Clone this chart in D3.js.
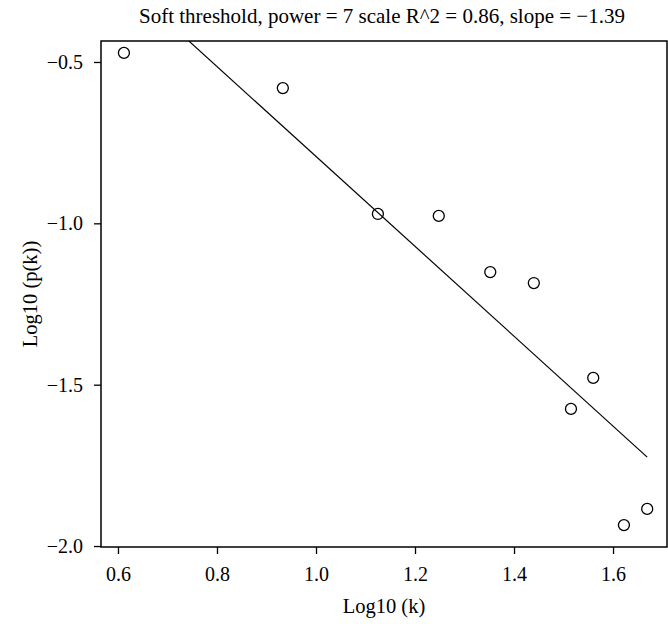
<!DOCTYPE html>
<html>
<head>
<meta charset="utf-8">
<script src="https://cdn.jsdelivr.net/npm/d3@7"></script>
<style>
  html, body { margin: 0; padding: 0; background: #fff; }
  svg text { font-family: "Liberation Serif", "DejaVu Serif", serif; fill: #000; }
</style>
</head>
<body>
<svg id="chart" width="668" height="624"></svg>
<script>
// Data
const logK  = [0.612, 0.933, 1.125, 1.248, 1.352, 1.440, 1.515, 1.560, 1.622, 1.669];
const logPK = [-0.472, -0.581, -0.971, -0.977, -1.151, -1.185, -1.575, -1.479, -1.935, -1.885];
const xTicks = [0.6, 0.8, 1.0, 1.2, 1.4, 1.6];
const yTicks = [-2.0, -1.5, -1.0, -0.5];
const titleText = "Soft threshold, power = 7 scale R^2 = 0.86, slope = \u22121.39";
const xLabel = "Log10 (k)";
const yLabel = "Log10 (p(k))";

const W = 668, H = 624;
const box = { left: 101, right: 667, top: 41, bottom: 547 };

const svg = d3.select("#chart");

const x = d3.scaleLinear().domain([0.5657, 1.709]).range([box.left, box.right]);
const y = d3.scaleLinear().domain([-2.003, -0.435]).range([box.bottom, box.top]);

// least-squares fit of log10(p(k)) on log10(k)
const mx = d3.mean(logK), my = d3.mean(logPK);
let sxy = 0, sxx = 0;
logK.forEach((v, i) => { sxy += (v - mx) * (logPK[i] - my); sxx += (v - mx) * (v - mx); });
const slope = sxy / sxx, intercept = my - slope * mx;

const fmt = v => d3.format(".1f")(v).replace("-", "\u2212");

// clip
svg.append("clipPath").attr("id", "clip")
  .append("rect").attr("x", box.left).attr("y", box.top)
  .attr("width", box.right - box.left).attr("height", box.bottom - box.top);

// x axis
const xAxis = d3.axisBottom(x).tickValues(xTicks).tickFormat(fmt).tickSize(7).tickPadding(8).tickSizeOuter(0);
const gx = svg.append("g").attr("transform", `translate(0,${box.bottom})`).call(xAxis);
gx.select(".domain").remove();
gx.selectAll(".tick line").attr("stroke", "#000").attr("stroke-width", 1.3);
gx.selectAll(".tick text").attr("font-size", 20).attr("dy", "0.95em")
  .style("font-family", '"Liberation Serif", serif');

// y axis
const yAxis = d3.axisLeft(y).tickValues(yTicks).tickFormat(fmt).tickSize(7).tickPadding(11).tickSizeOuter(0);
const gy = svg.append("g").attr("transform", `translate(${box.left},0)`).call(yAxis);
gy.select(".domain").remove();
gy.selectAll(".tick line").attr("stroke", "#000").attr("stroke-width", 1.3);
gy.selectAll(".tick text").attr("font-size", 20)
  .style("font-family", '"Liberation Serif", serif');

// box
svg.append("rect")
  .attr("x", box.left).attr("y", box.top)
  .attr("width", box.right - box.left).attr("height", box.bottom - box.top)
  .attr("fill", "none").attr("stroke", "#000").attr("stroke-width", 1.5);

// fit line
const x0 = d3.min(logK), x1 = d3.max(logK);
svg.append("line")
  .attr("clip-path", "url(#clip)")
  .attr("x1", x(x0)).attr("y1", y(intercept + slope * x0))
  .attr("x2", x(x1)).attr("y2", y(intercept + slope * x1))
  .attr("stroke", "#000").attr("stroke-width", 1.2);

// points
svg.append("g").selectAll("circle")
  .data(logK.map((v, i) => [v, logPK[i]]))
  .join("circle")
  .attr("cx", d => x(d[0])).attr("cy", d => y(d[1]))
  .attr("r", 5.5).attr("fill", "none").attr("stroke", "#000").attr("stroke-width", 1.3);

// title
svg.append("text")
  .attr("x", (box.left + box.right) / 2 - 2).attr("y", 23)
  .attr("text-anchor", "middle").attr("font-size", 21)
  .text(titleText);

// x label
svg.append("text")
  .attr("x", (box.left + box.right) / 2).attr("y", 613)
  .attr("text-anchor", "middle").attr("font-size", 20.5)
  .text(xLabel);

// y label
svg.append("text")
  .attr("transform", `translate(37,${(box.top + box.bottom) / 2}) rotate(-90)`)
  .attr("text-anchor", "middle").attr("font-size", 20.5)
  .text(yLabel);
</script>
</body>
</html>
